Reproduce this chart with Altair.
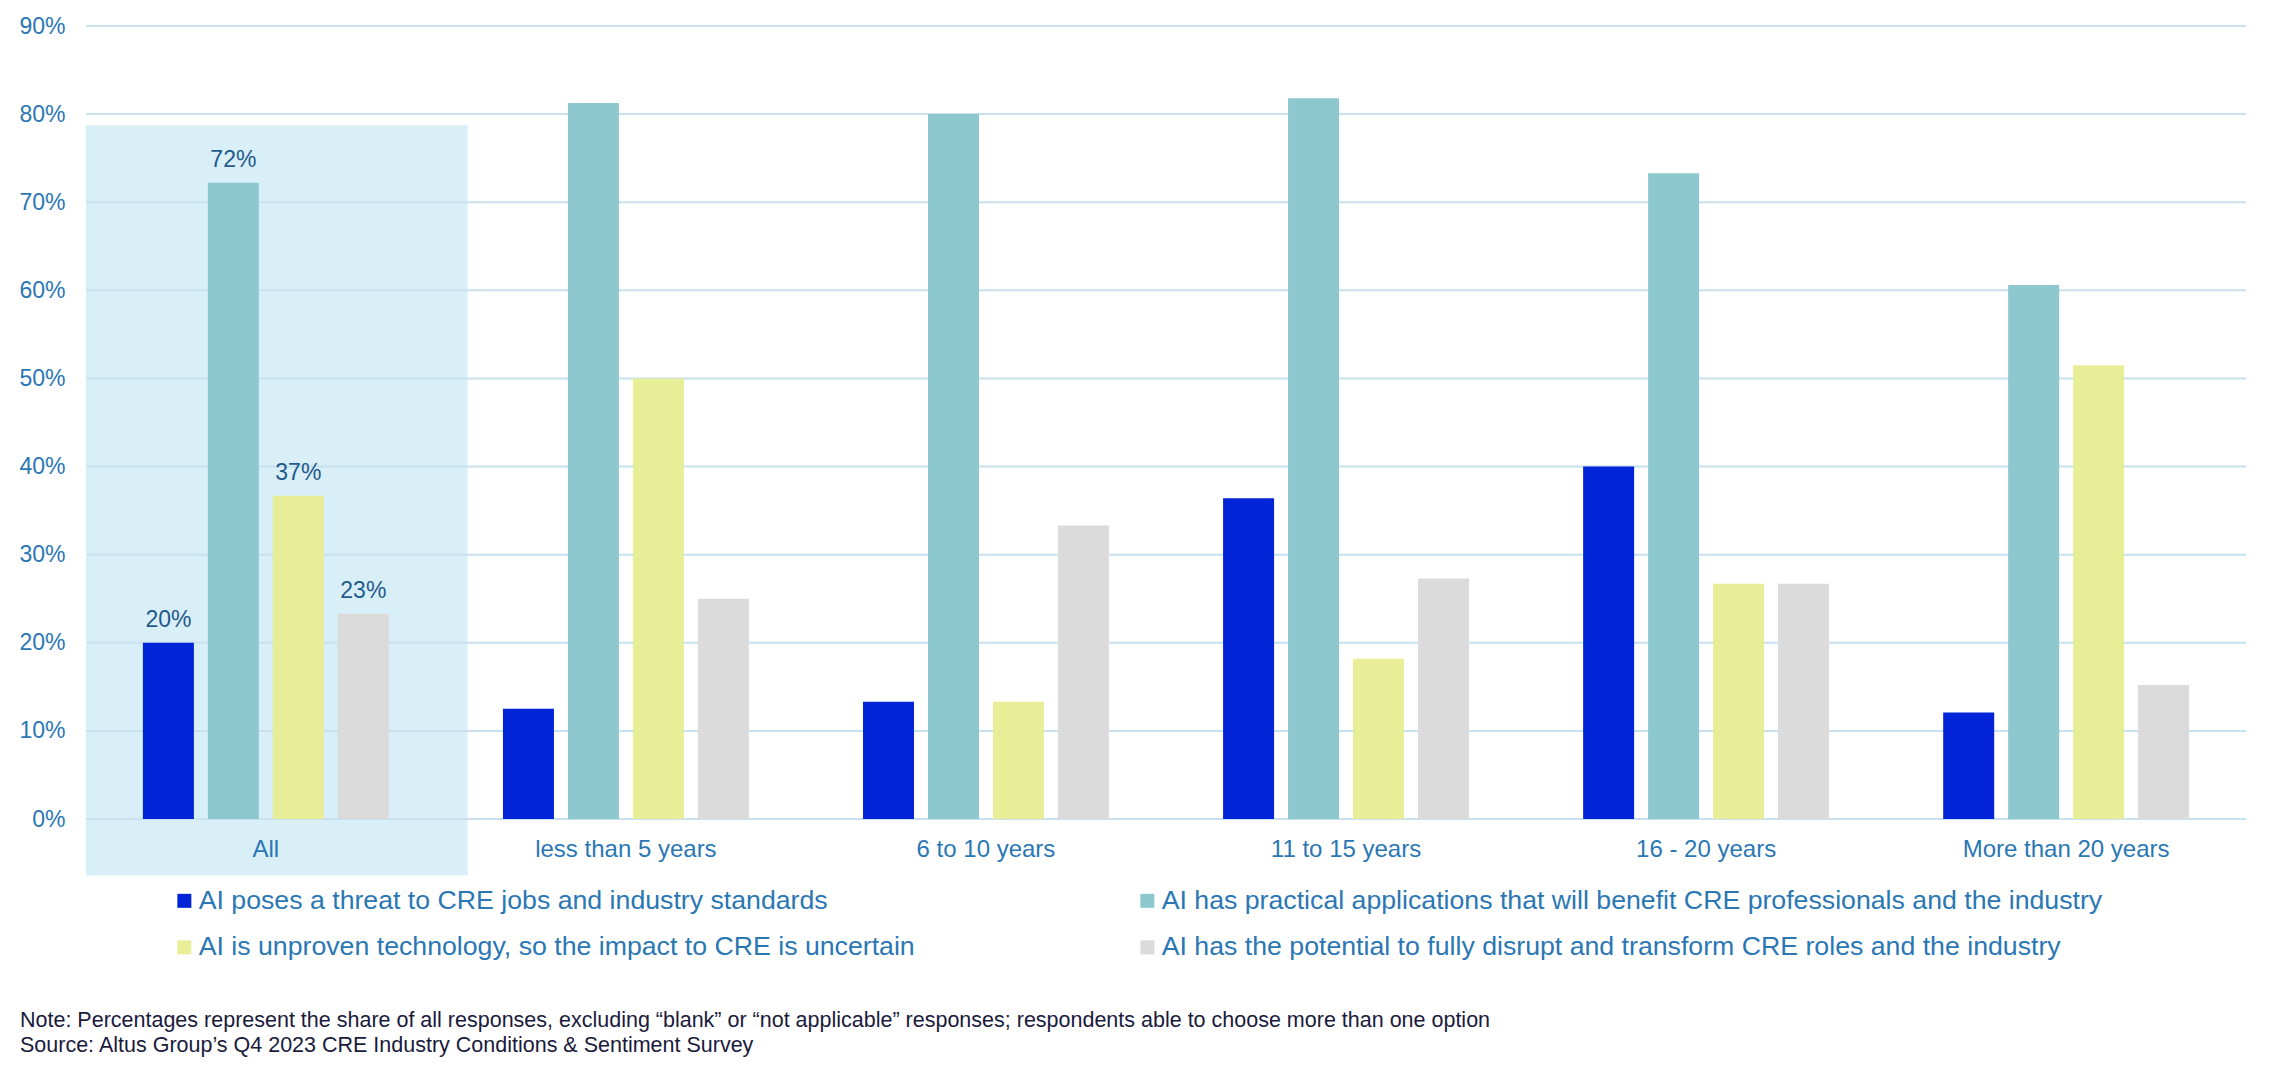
import altair as alt
import pandas as pd

categories = ["All", "less than 5 years", "6 to 10 years", "11 to 15 years", "16 - 20 years", "More than 20 years"]
series = [
    "AI poses a threat to CRE jobs and industry standards",
    "AI has practical applications that will benefit CRE professionals and the industry",
    "AI is unproven technology, so the impact to CRE is uncertain",
    "AI has the potential to fully disrupt and transform CRE roles and the industry",
]
threat = [20.0, 12.5, 13.3, 36.4, 40.0, 12.1]
practical = [72.2, 81.25, 80.0, 81.8, 73.3, 60.6]
unproven = [36.7, 50.0, 13.3, 18.2, 26.7, 51.5]
disrupt = [23.3, 25.0, 33.3, 27.3, 26.7, 15.2]
colors = ["#0024D6", "#8EC8CF", "#E8ED97", "#DBDBDB"]
grid_values = [0, 10, 20, 30, 40, 50, 60, 70, 80, 90]
labelled_category = "All"
note_lines = [
    "Note: Percentages represent the share of all responses, excluding \u201cblank\u201d or \u201cnot applicable\u201d responses; respondents able to choose more than one option",
    "Source: Altus Group\u2019s Q4 2023 CRE Industry Conditions & Sentiment Survey",
]
# highlight band behind "All" (in category units / percent units)
highlight = {"hx": [0.0], "hx2": [1.06], "hy": [78.75], "hy2": [-6.4]}

rows = []
for s, vals in zip(series, [threat, practical, unproven, disrupt]):
    for c, v in zip(categories, vals):
        rows.append({"category": c, "series": s, "value": v, "label": f"{round(v)}%"})
df = pd.DataFrame(rows)

FONT = "Liberation Sans"
AXIS_BLUE = "#2A77B4"

x_scale = alt.Scale(domain=categories, paddingInner=0.317, paddingOuter=0.158)
x_axis = alt.Axis(title=None, labelAngle=0, labelFontSize=24, labelColor=AXIS_BLUE,
                  labelFont=FONT, labelPadding=18, ticks=False, tickSize=0, domain=False,
                  grid=False, labelLimit=600, zindex=2)
y_scale = alt.Scale(domain=[0, 90], nice=False, zero=True)
y_axis = alt.Axis(title=None, values=grid_values, labelExpr="datum.value + '%'",
                  labelFontSize=23, labelColor=AXIS_BLUE, labelFont=FONT,
                  labelPadding=21, ticks=False, tickSize=0, domain=False, grid=False)
xoff_enc = alt.XOffset("series:N", sort=series,
                       scale=alt.Scale(domain=series, paddingInner=0.215, paddingOuter=0))

bars = alt.Chart(df).mark_bar().encode(
    x=alt.X("category:N", sort=categories, scale=x_scale, axis=x_axis),
    xOffset=xoff_enc,
    y=alt.Y("value:Q", scale=y_scale, axis=y_axis),
    color=alt.Color("series:N", sort=series,
                    scale=alt.Scale(domain=series, range=colors),
                    legend=alt.Legend(title=None, orient="none", legendX=85, legendY=861,
                                      direction="horizontal", columns=2, columnPadding=219,
                                      rowPadding=19, symbolType="square", symbolSize=196,
                                      symbolStrokeWidth=0, labelFontSize=26.7, labelFont=FONT,
                                      labelColor=AXIS_BLUE, labelLimit=1500, labelOffset=1,
                                      padding=0)),
)

labels = alt.Chart(df[df["category"] == labelled_category]).mark_text(
    baseline="alphabetic", dy=-16, fontSize=23, font=FONT, color="#1F5A8C"
).encode(
    x=alt.X("category:N", sort=categories, scale=x_scale, axis=x_axis),
    xOffset=xoff_enc,
    y=alt.Y("value:Q", scale=y_scale, axis=y_axis),
    text="label:N",
)

grid = alt.Chart(pd.DataFrame({"g": grid_values})).mark_rule(color="#C8E0EF", strokeWidth=2).encode(
    y=alt.Y("g:Q", scale=y_scale, axis=y_axis)
)

hl = alt.Chart(pd.DataFrame(highlight)).mark_rect(color="#D9EFF8").encode(
    x=alt.X("hx:Q", scale=alt.Scale(domain=[0, 6], nice=False, zero=False), axis=None),
    x2="hx2:Q",
    y=alt.Y("hy:Q", scale=y_scale, axis=y_axis),
    y2="hy2:Q",
)

notes = alt.Chart(pd.DataFrame({"n": [0]})).mark_text(
    text=note_lines, align="left", baseline="middle", fontSize=21.5, font=FONT,
    color="#1A1A3C", lineHeight=25
).encode(x=alt.value(-66), y=alt.value(995))

inner = alt.layer(grid, bars, labels)
chart = alt.layer(hl, inner, notes).resolve_scale(x="independent").properties(
    width=2160, height=793,
    autosize=alt.AutoSizeParams(type="none"),
    padding={"left": 78, "top": 18, "right": 17, "bottom": 241},
).configure(background="white").configure_view(strokeWidth=0, stroke="transparent")

chart.save("out.html", embed_options={"renderer": "svg", "actions": False})
